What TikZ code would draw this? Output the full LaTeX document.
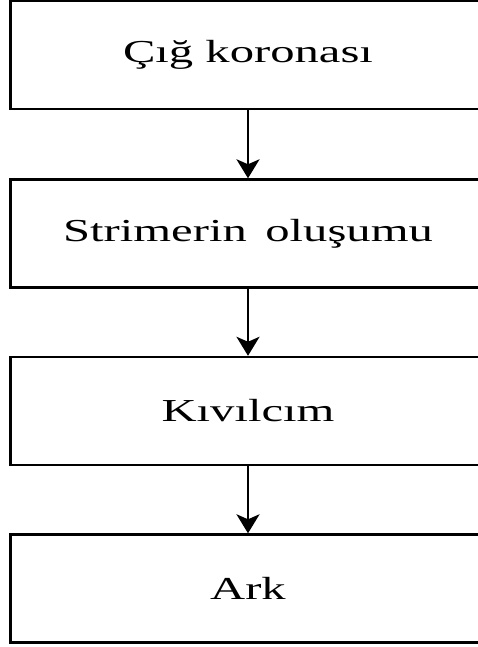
\documentclass[tikz,border=0pt]{standalone}
\usepackage{fontspec}
\usepackage{graphicx}
\setmainfont{Liberation Serif}
\usetikzlibrary{arrows.meta}
\tikzset{
  stepbox/.style={draw=black, line width=2.4pt, rectangle, minimum width=475pt, minimum height=108pt, inner sep=0pt, fill=white},
  flow/.style={line width=2.6pt, -{Stealth[length=19pt,width=23pt,inset=5pt]}},
  lbl/.style={font=\fontsize{32}{38}\selectfont}
}
\newcommand{\wide}[1]{\scalebox{1.52}[1]{#1}}
\begin{document}
\begin{tikzpicture}[x=1pt,y=1pt]
\useasboundingbox (0,0) rectangle (477,-647);
\fill[white] (0,0) rectangle (477,-647);
\node[stepbox, lbl] (a) at (248,-55) {\wide{Çığ koronası}};
\node[stepbox, lbl] (b) at (248,-233.5) {\wide{Strimerin\hspace{0.38em}oluşumu}};
\node[stepbox, lbl] (c) at (248,-411) {\wide{Kıvılcım}};
\node[stepbox, lbl] (d) at (248,-588.5) {\wide{Ark}};
\draw[flow] (a.south) -- (b.north);
\draw[flow] (b.south) -- (c.north);
\draw[flow] (c.south) -- (d.north);
\end{tikzpicture}
\end{document}
